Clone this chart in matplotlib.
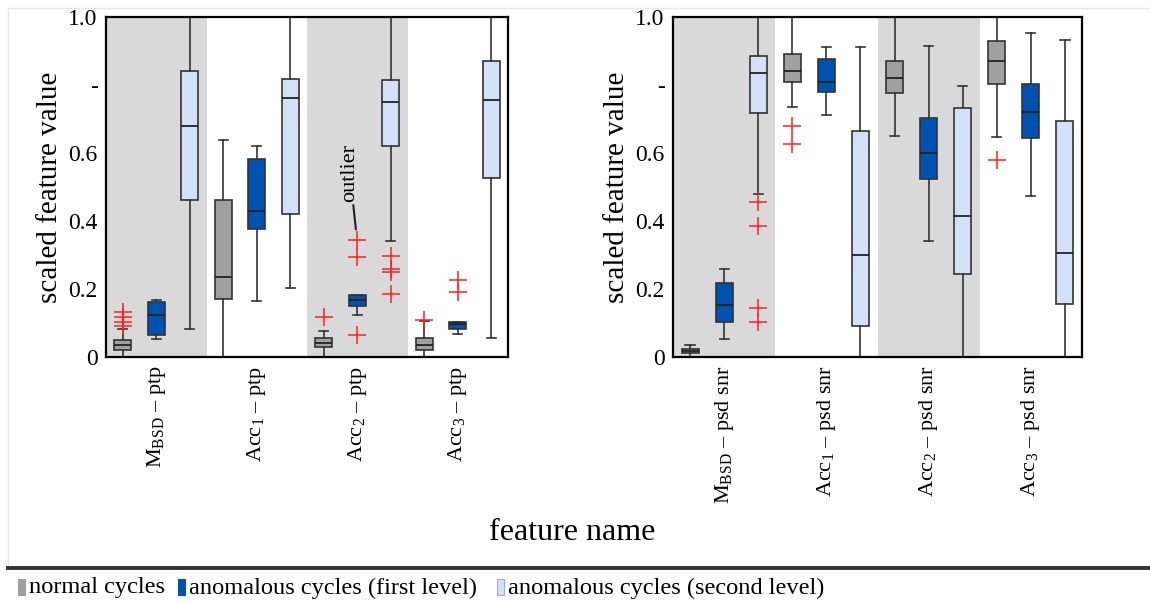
import matplotlib
matplotlib.use("Agg")
import matplotlib.pyplot as plt
from matplotlib.patches import Rectangle
from matplotlib.lines import Line2D

plt.rcParams['font.family'] = ['Liberation Serif', 'DejaVu Serif']
plt.rcParams['mathtext.fontset'] = 'custom'
plt.rcParams['mathtext.rm'] = 'Liberation Serif'

# feature labels for the two panels
labels_ptp = [r'M$_\mathregular{BSD}$ – ptp', r'Acc$_\mathregular{1}$ – ptp',
              r'Acc$_\mathregular{2}$ – ptp', r'Acc$_\mathregular{3}$ – ptp']
labels_snr = [r'M$_\mathregular{BSD}$ – psd snr', r'Acc$_\mathregular{1}$ – psd snr',
              r'Acc$_\mathregular{2}$ – psd snr', r'Acc$_\mathregular{3}$ – psd snr']

series = ['normal cycles', 'anomalous cycles (first level)', 'anomalous cycles (second level)']
colors = ['#a0a0a0', '#0052b0', '#d2e0f8']

# box stats: (whislo, q1, med, q3, whishi, fliers)
# per feature, order: normal, first level, second level
ptp_stats = [
    [(-0.02, 0.022, 0.034, 0.049, 0.083, [0.131, 0.117, 0.104, 0.091]),
     (0.054, 0.066, 0.123, 0.161, 0.168, []),
     (0.082, 0.462, 0.679, 0.840, 1.05, [])],
    [(-0.02, 0.171, 0.235, 0.462, 0.638, []),
     (0.164, 0.376, 0.430, 0.581, 0.620, []),
     (0.203, 0.420, 0.761, 0.817, 1.05, [])],
    [(-0.02, 0.030, 0.042, 0.055, 0.077, [0.119]),
     (0.123, 0.151, 0.167, 0.183, 0.183, [0.344, 0.295, 0.064]),
     (0.340, 0.621, 0.750, 0.814, 1.05, [0.296, 0.260, 0.250, 0.185])],
    [(-0.02, 0.020, 0.035, 0.055, 0.105, [0.110]),
     (0.068, 0.082, 0.098, 0.104, 0.104, [0.227, 0.191]),
     (0.057, 0.527, 0.756, 0.872, 1.05, [])],
]
snr_stats = [
    [(-0.02, 0.011, 0.018, 0.025, 0.034, []),
     (0.054, 0.102, 0.154, 0.218, 0.259, []),
     (0.479, 0.717, 0.836, 0.884, 1.05, [0.456, 0.386, 0.144, 0.102])],
    [(0.735, 0.810, 0.841, 0.892, 1.05, [0.680, 0.627]),
     (0.711, 0.779, 0.808, 0.876, 0.913, []),
     (-0.02, 0.092, 0.299, 0.665, 0.912, [])],
    [(0.650, 0.777, 0.821, 0.871, 1.05, []),
     (0.342, 0.525, 0.601, 0.703, 0.914, []),
     (-0.02, 0.245, 0.416, 0.731, 0.798, [])],
    [(0.648, 0.804, 0.871, 0.930, 1.05, [0.579]),
     (0.475, 0.644, 0.721, 0.802, 0.953, []),
     (-0.02, 0.157, 0.305, 0.695, 0.932, [])],
]

yticks = [0, 0.2, 0.4, 0.6, 0.8, 1.0]
yticklabels = ['0', '0.2', '0.4', '0.6', '-', '1.0']


def draw_panel(ax, stats, labels):
    for g in range(4):
        if g % 2 == 0:
            ax.axvspan(3 * g + 0.5, 3 * g + 3.5, color='#d9d9d9', lw=0, zorder=0)
        for k in range(3):
            lo, q1, med, q3, hi, fl = stats[g][k]
            st = dict(whislo=lo, q1=q1, med=med, q3=q3, whishi=hi, fliers=fl)
            ax.bxp([st], positions=[3 * g + k + 1], widths=0.5, capwidths=0.27,
                   patch_artist=True, showfliers=True,
                   boxprops=dict(facecolor=colors[k], edgecolor='#333333', lw=1.2),
                   medianprops=dict(color='#222222', lw=1.3),
                   whiskerprops=dict(color='#333333', lw=1.2),
                   capprops=dict(color='#333333', lw=1.2),
                   flierprops=dict(marker='+', markeredgecolor='#ff2020',
                                   markersize=13, mew=1.1))
    ax.set_xlim(0.5, 12.5)
    ax.set_ylim(0, 1.0)
    ax.set_yticks(yticks)
    ax.set_yticklabels(yticklabels, fontsize=17)
    ax.set_xticks([2, 5, 8, 11])
    ax.set_xticklabels(labels, rotation=90, fontsize=16)
    ax.tick_params(length=0, pad=6)
    ax.set_ylabel('scaled feature value', fontsize=21, labelpad=4)
    for sp in ax.spines.values():
        sp.set_linewidth(1.6)
        sp.set_color('black')


fig = plt.figure(figsize=(11.5, 6.02), dpi=100)
ax1 = fig.add_axes([106 / 1150, 1 - 357 / 602, 402 / 1150, 340 / 602])
ax2 = fig.add_axes([673 / 1150, 1 - 357 / 602, 409 / 1150, 340 / 602])
draw_panel(ax1, ptp_stats, labels_ptp)
draw_panel(ax2, snr_stats, labels_snr)

ax1.annotate('outlier', xy=(7.96, 0.375), xytext=(7.78, 0.455), rotation=90,
             ha='center', va='bottom', fontsize=16,
             arrowprops=dict(arrowstyle='-', color='#222222', lw=1.5,
                             shrinkA=0, shrinkB=0))

fig.text(572 / 1150, 1 - 533 / 602, 'feature name', ha='center', va='center', fontsize=23)

# frame and separator line
fig.add_artist(Rectangle((8 / 1150, 1 - 567 / 602), 1, 559 / 602, transform=fig.transFigure,
                         fill=False, edgecolor='#e8e8e8', lw=1))
fig.add_artist(Line2D([8 / 1150, 1], [1 - 568 / 602] * 2, transform=fig.transFigure,
                      color='#333333', lw=2.8))

# legend strip
leg_x = [18, 178, 497]
for x, c, name in zip(leg_x, colors, series):
    fig.add_artist(Rectangle((x / 1150, 1 - 595 / 602), 7 / 1150, 16 / 602,
                             transform=fig.transFigure, facecolor=c,
                             edgecolor='#9ab0d0' if c == colors[2] else c, lw=0.8))
    fig.text((x + 11) / 1150, 1 - 588 / 602, name, ha='left', va='center', fontsize=17.6)

fig.savefig('out.png', dpi=100)
